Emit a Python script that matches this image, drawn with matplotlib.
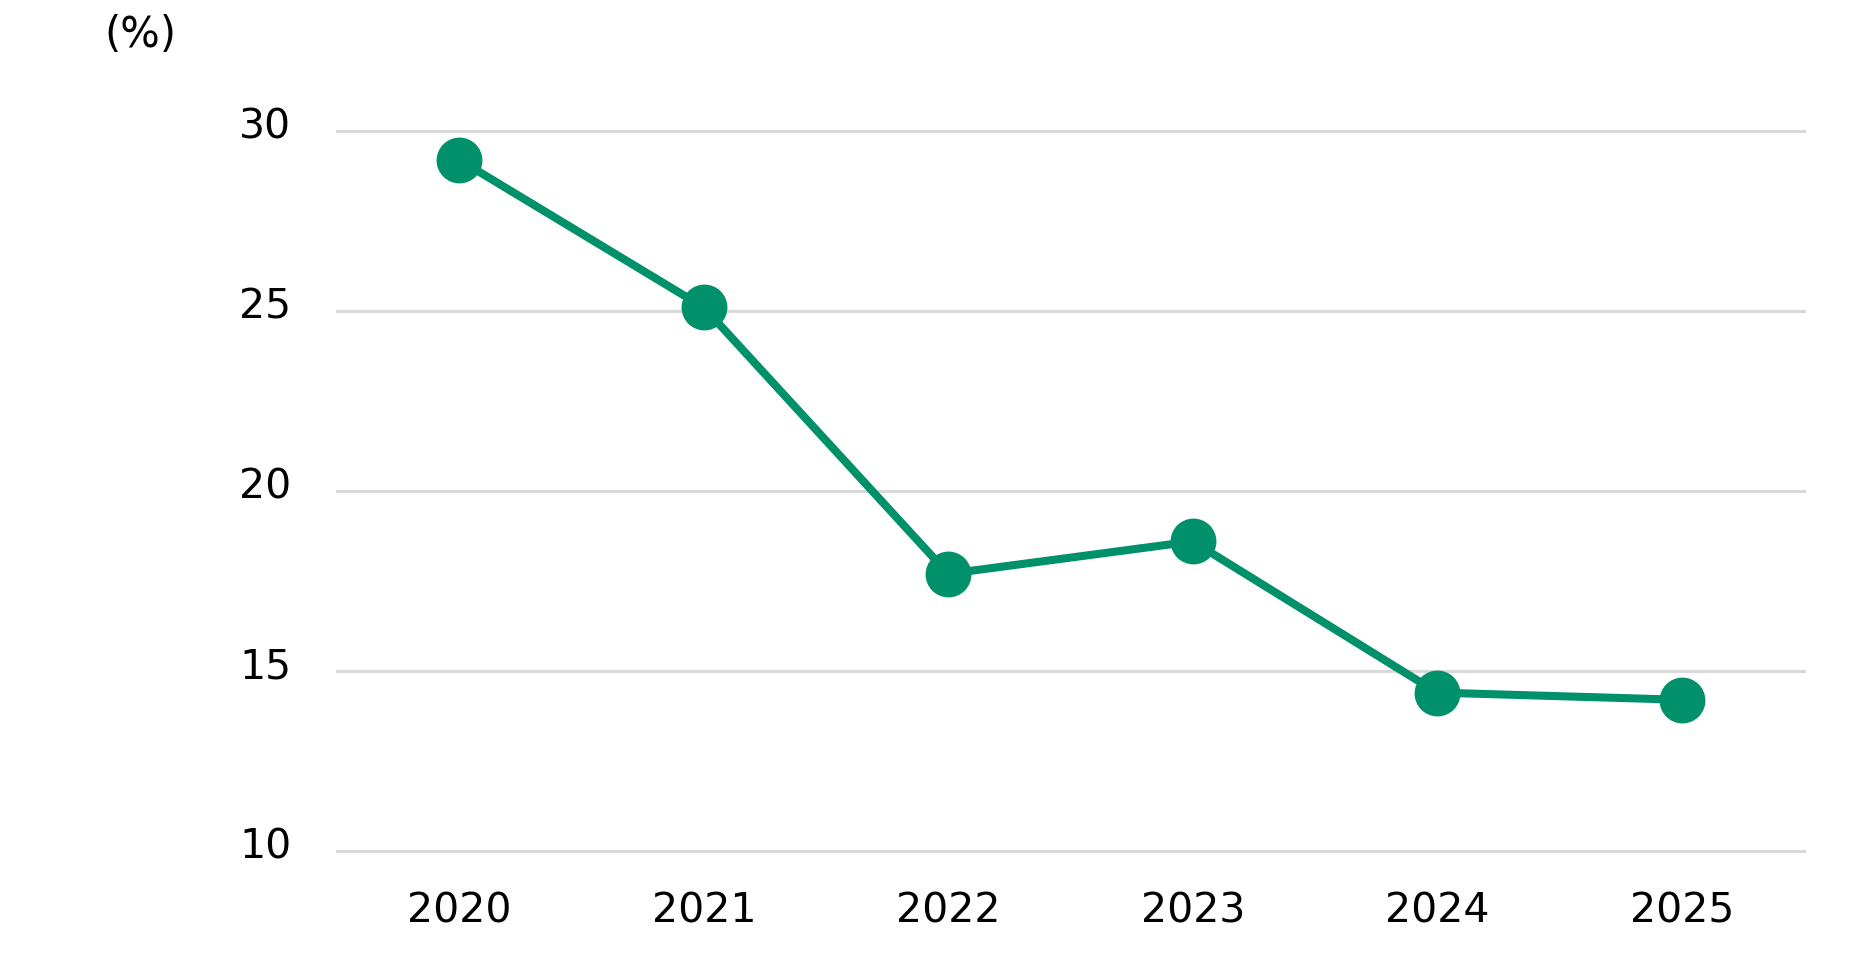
import matplotlib.pyplot as plt
import matplotlib.transforms as mtransforms

# Data
years = ['2020', '2021', '2022', '2023', '2024', '2025']
values = [29.2, 25.1, 17.7, 18.6, 14.4, 14.2]
yticks = [10, 15, 20, 25, 30]

green = '#00906A'
plt.rcParams['font.family'] = 'DejaVu Sans'

fig = plt.figure(figsize=(18.55, 9.72), dpi=100)
ax = fig.add_axes([0.1817, 0.1245, 0.7908, 0.7407])

x = list(range(len(years)))
ax.plot(x, values, color=green, linewidth=5.8, marker='o', markersize=32,
        markerfacecolor=green, markeredgecolor=green, clip_on=False, zorder=3)

ax.set_xlim(-0.5, len(years) - 0.5)
ax.set_ylim(10, 30)
ax.set_yticks(yticks)
ax.set_yticklabels([str(t) for t in yticks])
ax.set_xticks(x)
ax.set_xticklabels(years)

# horizontal gridlines (unclipped so the bottom one is full width)
for t in yticks:
    ax.axhline(t, color='#d9d9d9', linewidth=2.2, clip_on=False, zorder=1)

for s in ax.spines.values():
    s.set_visible(False)
ax.tick_params(axis='both', length=0, labelsize=29.5, colors='#000000')
ax.tick_params(axis='y', pad=33)
ax.tick_params(axis='x', pad=29)

# nudge y labels slightly above the gridlines
offset = mtransforms.ScaledTranslation(0, 6 / 72, fig.dpi_scale_trans)
for lab in ax.get_yticklabels():
    lab.set_transform(lab.get_transform() + offset)

fig.text(140 / 1855, 1 - 35 / 972, '(%)', fontsize=30, ha='center', va='center')

fig.savefig('out.png', dpi=100, facecolor='white')
